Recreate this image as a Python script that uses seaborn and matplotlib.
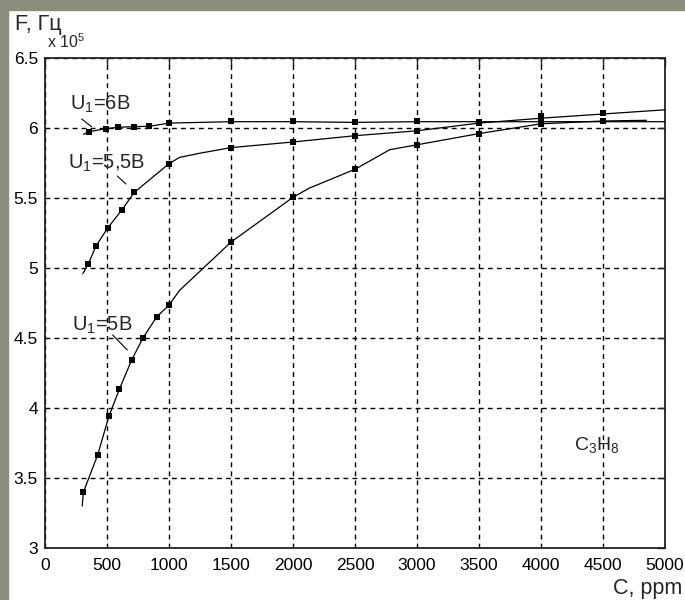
import matplotlib
matplotlib.use("Agg")
import matplotlib.pyplot as plt
import seaborn as sns
from matplotlib.patches import Rectangle

# curve vertices (C, ppm ; F, x10^5 Hz)
c6_line = [310, 357, 490, 590, 720, 840, 1000, 1500, 2000, 2500, 3000, 3500, 4000, 4500, 5000]
f6_line = [5.955, 5.974, 5.995, 6.005, 6.01, 6.012, 6.035, 6.045, 6.045, 6.04, 6.045, 6.045, 6.045, 6.045, 6.045]
c6_pts = [357, 490, 590, 720, 840, 1000, 1500, 2000, 2500, 3000, 3500, 4000, 4500]
f6_pts = [5.974, 5.995, 6.01, 6.01, 6.012, 6.035, 6.05, 6.05, 6.04, 6.05, 6.045, 6.05, 6.05]

c55_line = [305, 350, 410, 505, 620, 720, 1000, 1085, 1250, 1500, 2000, 2500, 3000, 3500, 4000, 4500, 5000]
f55_line = [4.96, 5.03, 5.155, 5.285, 5.415, 5.54, 5.745, 5.79, 5.82, 5.86, 5.9, 5.945, 5.98, 6.035, 6.07, 6.1, 6.13]
c55_pts = [350, 410, 505, 620, 720, 1000, 1500, 2000, 2500, 3000, 3500, 4000, 4500]
f55_pts = [5.03, 5.155, 5.285, 5.415, 5.54, 5.745, 5.86, 5.9, 5.945, 5.98, 6.035, 6.085, 6.105]

c5_line = [300, 310, 425, 515, 600, 700, 790, 900, 1000, 1085, 1500, 2000, 2130, 2500, 2780, 3000, 3500, 4000, 4500, 4850]
f5_line = [3.3, 3.4, 3.665, 3.94, 4.135, 4.345, 4.5, 4.65, 4.735, 4.84, 5.185, 5.505, 5.57, 5.705, 5.845, 5.88, 5.96, 6.03, 6.05, 6.055]
c5_pts = [310, 425, 515, 600, 700, 790, 900, 1000, 1500, 2000, 2500, 3000, 3500, 4000, 4500]
f5_pts = [3.4, 3.665, 3.94, 4.135, 4.345, 4.5, 4.65, 4.735, 5.185, 5.505, 5.705, 5.88, 5.96, 6.03, 6.05]

x_ticks = [0, 500, 1000, 1500, 2000, 2500, 3000, 3500, 4000, 4500, 5000]
y_ticks = [3, 3.5, 4, 4.5, 5, 5.5, 6, 6.5]
y_labels = ["3", "3.5", "4", "4.5", "5", "5.5", "6", "6.5"]

sns.set_theme(style="white")
plt.rcParams["font.family"] = ["Liberation Sans", "DejaVu Sans"]
plt.rcParams["mathtext.fontset"] = "custom"
plt.rcParams["mathtext.rm"] = "Liberation Sans"
plt.rcParams["mathtext.it"] = "Liberation Sans"

fig = plt.figure(figsize=(6.85, 6.0), dpi=100, facecolor="white")
W, H = 685, 600
# grey border of the original slide
grey = "#8b8c7b"
fig.patches.append(Rectangle((0, 0), 8 / W, 1, transform=fig.transFigure, color=grey, zorder=0))
fig.patches.append(Rectangle((0, 1 - 10 / H), 1, 10 / H, transform=fig.transFigure, color=grey, zorder=0))

ax = fig.add_axes([45 / W, 1 - 548 / H, 620 / W, 490 / H])
ax.set_facecolor("white")

for cl, fl, cp, fp in [(c6_line, f6_line, c6_pts, f6_pts),
                       (c55_line, f55_line, c55_pts, f55_pts),
                       (c5_line, f5_line, c5_pts, f5_pts)]:
    sns.lineplot(x=cl, y=fl, ax=ax, color="black", lw=0.9, estimator=None, sort=False, zorder=3)
    sns.scatterplot(x=cp, y=fp, ax=ax, color="black", marker="s", s=16, linewidth=0, zorder=4)

ax.set_xlim(0, 5000)
ax.set_ylim(3, 6.5)
ax.set_xticks(x_ticks)
ax.set_xticklabels([str(v) for v in x_ticks])
ax.set_yticks(y_ticks)
ax.set_yticklabels(y_labels)
ax.grid(True, color="black", lw=1.0, linestyle=(0, (3.5, 3)))
ax.tick_params(direction="in", length=6, width=1, colors="#222222", labelsize=12.5,
               top=True, right=True, labelcolor="black")
ax.tick_params(axis="x", pad=7)
ax.tick_params(axis="y", pad=5)
for s in ax.spines.values():
    s.set_color("#222222")
    s.set_linewidth(1.3)

# curve labels with leader lines
ax.text(202, 6.129, r"U$_1$=6В", fontsize=14.5, va="baseline")
ax.plot([296, 376], [6.064, 6.009], color="black", lw=0.8)
ax.text(188, 5.712, r"U$_1$=5,5В", fontsize=14.5, va="baseline")
ax.plot([583, 653], [5.657, 5.6], color="black", lw=0.8)
ax.text(215, 4.55, r"U$_1$=5В", fontsize=14.5, va="baseline")
ax.plot([546, 664], [4.521, 4.414], color="black", lw=0.8)
ax.text(4266, 3.70, r"C$_3$H$_8$", fontsize=14, va="baseline")

fig.text(15 / W, 1 - 30 / H, "F, Гц", fontsize=15.5, va="baseline")
fig.text(47 / W, 1 - 48 / H, r"x 10$^5$", fontsize=11.5, va="baseline")
fig.text(682 / W, 1 - 594 / H, "C, ppm", fontsize=15.5, ha="right", va="baseline")

fig.savefig("out.png", dpi=100, facecolor=fig.get_facecolor())
